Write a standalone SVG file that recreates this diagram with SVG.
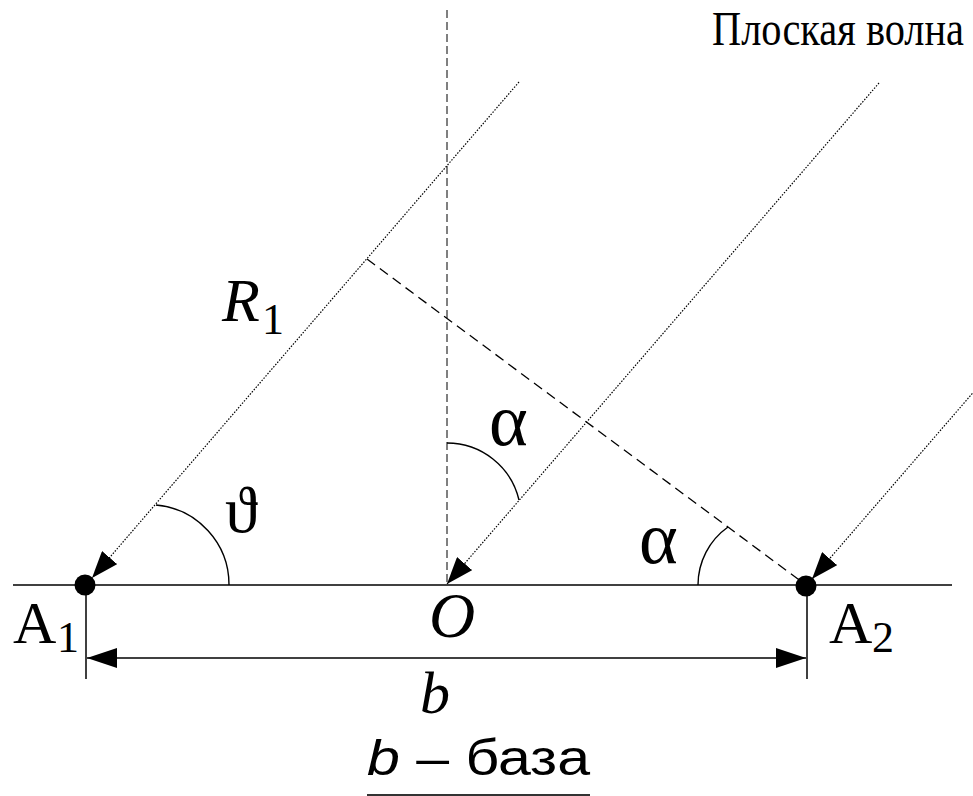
<svg xmlns="http://www.w3.org/2000/svg" width="973" height="796" viewBox="0 0 973 796">
<style>
.ray{stroke:#000;stroke-width:1.2;stroke-dasharray:1.5 1.5;fill:none}
.vdash{stroke:#000;stroke-width:1;stroke-dasharray:8 4;fill:none}
.sdash{stroke:#000;stroke-width:1.3;stroke-dasharray:10 6;fill:none}
.solid{stroke:#000;stroke-width:1.5;fill:none}
.arc{stroke:#000;stroke-width:1.4;fill:none}
text{fill:#000}
.it{font-style:italic}
</style>
<defs>
<marker id="arr" viewBox="0 0 27 20" refX="27" refY="10" markerWidth="27" markerHeight="20" markerUnits="userSpaceOnUse" orient="auto">
<path d="M0,0 L27,10 L0,20 z" fill="#000"/>
</marker>
<marker id="dim" viewBox="0 0 30 20" refX="30" refY="10" markerWidth="30" markerHeight="20" markerUnits="userSpaceOnUse" orient="auto-start-reverse">
<path d="M0,0 L30,10 L0,20 z" fill="#000"/>
</marker>
</defs>
<rect width="973" height="796" fill="#fff"/>
<g id="connectors">
<line class="solid" x1="13" y1="585" x2="952" y2="585"/>
<line class="vdash" x1="447" y1="10" x2="447" y2="585"/>
<line class="sdash" x1="367" y1="259" x2="806" y2="585"/>
<line class="ray" x1="519" y1="82" x2="92" y2="578" marker-end="url(#arr)"/>
<line class="ray" x1="879" y1="83" x2="447" y2="584" marker-end="url(#arr)"/>
<line class="ray" x1="990" y1="373" x2="812" y2="579" marker-end="url(#arr)"/>
<line class="solid" x1="86" y1="585" x2="86" y2="679"/>
<line class="solid" x1="807" y1="585" x2="807" y2="679"/>
<line class="solid" x1="87" y1="658" x2="806" y2="658" marker-start="url(#dim)" marker-end="url(#dim)"/>
<path class="arc" d="M156,505 A80,80 0 0 1 229,585"/>
<path class="arc" d="M447,443 A74,74 0 0 1 519,500"/>
<path class="arc" d="M728,527 A71,71 0 0 0 698,585"/>
</g>
<g id="A1" font-family="Liberation Serif, DejaVu Serif, serif">
<circle cx="85" cy="585" r="10.5" fill="#000"/>
<text x="13" y="643" font-size="60">A</text>
<text x="57" y="652" font-size="44">1</text>
</g>
<g id="A2" font-family="Liberation Serif, DejaVu Serif, serif">
<circle cx="806" cy="586" r="10.5" fill="#000"/>
<text x="829" y="643" font-size="60">A</text>
<text x="872" y="652" font-size="44">2</text>
</g>
<g id="O" font-family="Liberation Serif, DejaVu Serif, serif">
<text class="it" x="429" y="637" font-size="64">O</text>
</g>
<g id="labels" font-family="Liberation Serif, DejaVu Serif, serif">
<text class="it" x="222" y="321" font-size="62">R</text>
<text x="262" y="334" font-size="44">1</text>
<text x="225" y="532" font-size="66">ϑ</text>
<text x="489" y="445" font-size="74">α</text>
<text x="639" y="563" font-size="74">α</text>
<text class="it" x="420" y="713" font-size="60">b</text>
<text transform="translate(712,45) scale(1,1.22)" x="0" y="0" font-size="39" textLength="252" lengthAdjust="spacingAndGlyphs">Плоская волна</text>
</g>
<g id="caption">
<text x="367" y="775" font-family="Liberation Sans, Arial, sans-serif" font-size="50" fill="#333" textLength="223" lengthAdjust="spacingAndGlyphs"><tspan font-style="italic">b</tspan> – база</text>
<line x1="367" y1="795" x2="590" y2="795" stroke="#333" stroke-width="2"/>
</g>
</svg>
